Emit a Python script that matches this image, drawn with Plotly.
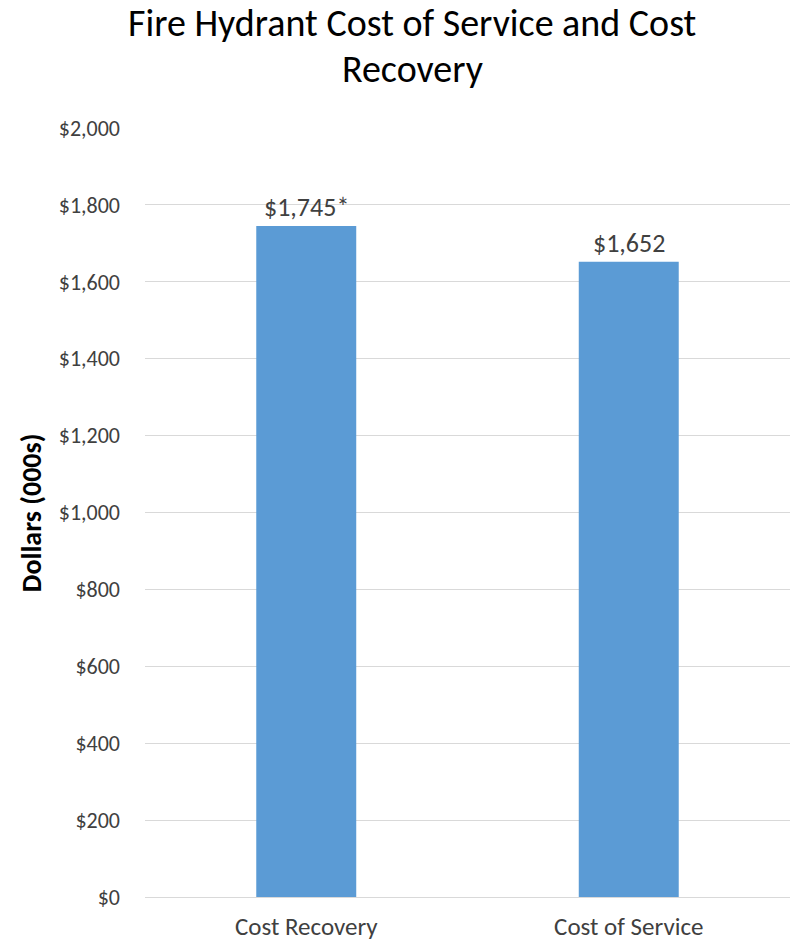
import plotly.graph_objects as go

categories = ["Cost Recovery", "Cost of Service"]
values = [1745, 1652]
labels = ["$1,745*", "$1,652"]
tick_vals = [0, 200, 400, 600, 800, 1000, 1200, 1400, 1600, 1800, 2000]

FONT = "Carlito, Calibri, Lato, 'Open Sans', sans-serif"
TXT = "#404040"

fig = go.Figure()
fig.add_trace(go.Bar(
    x=categories, y=values, marker_color="#5B9BD5",
    marker_line_width=0, width=0.31, hoverinfo="skip"
))

for c, v, t in zip(categories, values, labels):
    fig.add_annotation(x=c, y=v, xref="x", yref="y", text=t, showarrow=False,
                       yanchor="bottom", yshift=1, font=dict(family=FONT, size=26, color=TXT))

fig.add_annotation(x=0.414, y=1.136, xref="paper", yref="paper",
                   text="Fire Hydrant Cost of Service and Cost", showarrow=False,
                   yanchor="middle", font=dict(family=FONT, size=38, color="#000000"))
fig.add_annotation(x=0.414, y=1.077, xref="paper", yref="paper",
                   text="Recovery", showarrow=False,
                   yanchor="middle", font=dict(family=FONT, size=38, color="#000000"))
fig.add_annotation(x=-0.206, y=0.5, xref="paper", yref="paper",
                   text="<b>Dollars (000s)</b>", showarrow=False, textangle=-90,
                   font=dict(family=FONT, size=28, color="#000000"))

fig.update_layout(
    width=790, height=934,
    margin=dict(l=137, r=8, t=120, b=45, autoexpand=False),
    paper_bgcolor="white", plot_bgcolor="white",
    showlegend=False,
    font=dict(family=FONT, color=TXT),
)
fig.update_yaxes(range=[0, 2000], tickvals=tick_vals,
                 ticktext=[f"${v:,}" for v in tick_vals],
                 showgrid=True, gridcolor="#D9D9D9", gridwidth=1,
                 zeroline=True, zerolinecolor="#D9D9D9", zerolinewidth=1,
                 showline=False, ticks="", ticklabelstandoff=24, automargin=False,
                 tickfont=dict(family=FONT, size=22, color=TXT))
fig.update_xaxes(showgrid=False, showline=False, ticks="",
                 ticklabelstandoff=12, automargin=False,
                 tickfont=dict(family=FONT, size=25, color=TXT))

fig.write_html("out.html")
